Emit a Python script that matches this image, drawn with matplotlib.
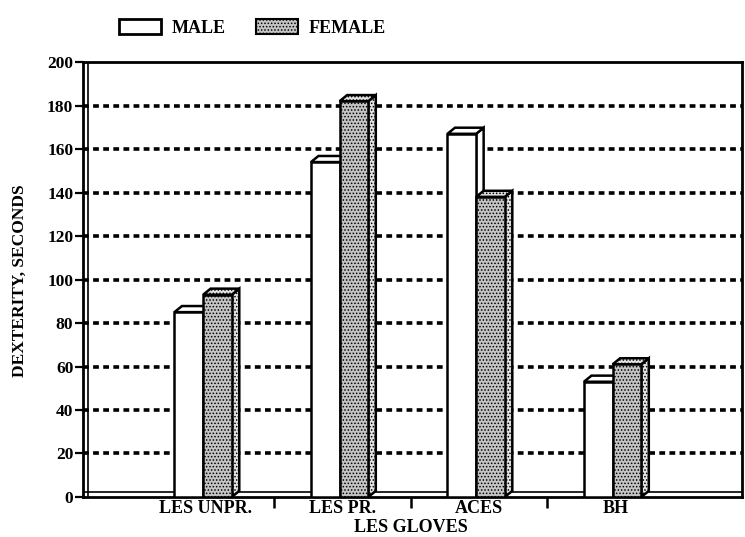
import matplotlib.pyplot as plt
from matplotlib.patches import Patch
import numpy as np

# data
categories = ['LES UNPR.', 'LES PR.', 'ACES', 'BH']
male = [85, 154, 167, 53]
female = [93, 182, 138, 61]
y_ticks = [0, 20, 40, 60, 80, 100, 120, 140, 160, 180, 200]

plt.rcParams['font.family'] = ['Liberation Serif', 'DejaVu Serif']
plt.rcParams['hatch.linewidth'] = 0.7

fig = plt.figure(figsize=(7.45, 5.37), dpi=100)
ax = fig.add_axes([0.1114, 0.0745, 0.885, 0.81])

x = np.arange(1, len(categories) + 1)
w = 0.21           # front face width
dx, dy = 0.055, 2.8  # 3d depth offsets
z = [3]


def bar3d(xl, h, face, side, hatch):
    # front, side and top faces of a pseudo 3d bar
    kw = dict(edgecolor='black', linewidth=1.8, hatch=hatch)
    ax.fill([xl + w, xl + w + dx, xl + w + dx, xl + w], [0, dy, h + dy, h],
            facecolor=side, zorder=z[0], **kw)
    ax.fill([xl, xl + dx, xl + w + dx, xl + w], [h, h + dy, h + dy, h],
            facecolor=side, zorder=z[0], **kw)
    ax.bar(xl, h, width=w, align='edge', facecolor=face, zorder=z[0] + 1, **kw)
    z[0] += 2


for c, m, f in zip(x, male, female):
    bar3d(c - 0.23, m, 'white', 'white', None)
    bar3d(c - 0.02, f, '#c4c4c4', '#e2e2e2', '.....')

# dotted gridlines on the back wall
for t in y_ticks[1:-1]:
    ax.axhline(t, color='black', linestyle=(0, (1.6, 1.2)), linewidth=2.6,
               zorder=1)

# floor and wall
ax.axhline(2.5, color='black', linewidth=1.2, zorder=2)
ax.axvline(0.135, color='black', linewidth=1.2, zorder=2)

ax.set_xlim(0.1, 4.93)
ax.set_ylim(0, 200)
ax.set_yticks(y_ticks)
ax.set_yticklabels([str(t) for t in y_ticks], fontsize=12.5, fontweight='bold')
ax.set_xticks(x)
ax.set_xticklabels(categories, fontsize=13, fontweight='bold')
ax.set_xticks([1.5, 2.5, 3.5], minor=True)
ax.tick_params(axis='x', which='major', length=0, pad=2)
ax.tick_params(axis='x', which='minor', length=8, width=1.8, direction='out')
ax.tick_params(axis='y', length=6, width=1.6, pad=1)
for s in ax.spines.values():
    s.set_linewidth(2)

fig.text(0.027, 0.478, 'DEXTERITY, SECONDS', rotation=90, ha='center',
         va='center', fontsize=12.5, fontweight='bold')
fig.text(0.552, 0.018, 'LES GLOVES', ha='center', va='center', fontsize=13,
         fontweight='bold')

handles = [Patch(facecolor='white', edgecolor='black', linewidth=2),
           Patch(facecolor='#c4c4c4', edgecolor='black', linewidth=1.5,
                 hatch='.....')]
fig.legend(handles, ['MALE', 'FEMALE'], loc='center left',
           bbox_to_anchor=(0.138, 0.948), ncol=2, frameon=False,
           prop={'size': 13, 'weight': 'bold'}, handlelength=2.3,
           handleheight=0.9, columnspacing=1.7, handletextpad=0.6)

fig.savefig('out.png', dpi=100)
